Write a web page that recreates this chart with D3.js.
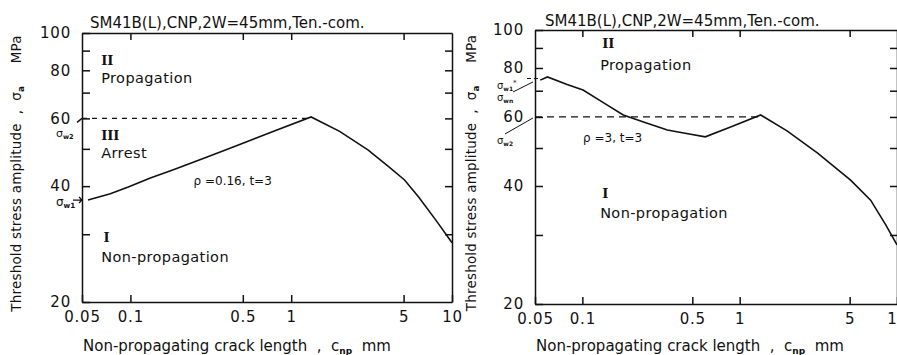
<!DOCTYPE html>
<html>
<head>
<meta charset="utf-8">
<script src="https://cdn.jsdelivr.net/npm/d3@7"></script>
<style>
  body { margin: 0; background: #fff; }
  svg text { font-family: "DejaVu Sans", sans-serif; fill: #111; white-space: pre; }
  .roman { font-family: "DejaVu Serif", serif; font-weight: bold; }
</style>
</head>
<body>
<svg id="chart" width="897" height="355"></svg>
<script>
// shared axis data
const xTickValues = [0.05, 0.1, 0.5, 1, 5, 10];
const xTickLabels = ["0.05", "0.1", "0.5", "1", "5", "10"];
const yMajorTicks = [20, 40, 60, 80, 100];
const yMinorTicks = [30, 50, 70, 90];
const titleText = "SM41B(L),CNP,2W=45mm,Ten.-com.";

// left panel, rho = 0.16, t = 3
const crackA = [0.0545, 0.075, 0.097, 0.133, 0.185, 0.3, 0.44, 0.8, 1.33, 2, 3, 4, 5.07, 6.2, 8, 10];
const stressA = [36.8, 38.2, 39.8, 42, 44.1, 47.6, 50.6, 55.8, 60.5, 55.5, 49.7, 45.1, 41.5, 37.5, 32.5, 28.5];
const peakA = 1.33;

// right panel, rho = 3, t = 3
const crackB = [0.054, 0.06, 0.08, 0.101, 0.14, 0.182, 0.25, 0.347, 0.45, 0.605, 0.9, 1.36, 2, 3.13, 5.07, 6.8, 8.5, 10];
const stressB = [74.5, 75.9, 72.6, 70.3, 64.8, 60.7, 58.1, 55.6, 54.5, 53.4, 56.8, 60.7, 55.3, 48.5, 41.4, 36.8, 31.8, 28.3];
const peakB = 1.36;

// region labels: [text, crack, stress, class]
const labelsA = [
  ["II", 0.0658, 82.6, "roman"],
  ["Propagation", 0.0658, 74.2, ""],
  ["III", 0.0658, 52.7, "roman"],
  ["Arrest", 0.0658, 47.3, ""],
  ["I", 0.068, 28.6, "roman"],
  ["Non-propagation", 0.0658, 25.4, ""]
];
const labelsB = [
  ["II", 0.1336, 90.0, "roman"],
  ["Propagation", 0.1297, 79.1, ""],
  ["I", 0.1336, 37.3, "roman"],
  ["Non-propagation", 0.1297, 33.1, ""]
];

const svg = d3.select("#chart");

function drawPanel(p) {
  const x = d3.scaleLog().domain([0.05, 10]).range([p.left, p.right]);
  const y = d3.scaleLog().domain([20, 100]).range([p.bottom, p.top]);
  const g = svg.append("g");

  // axes
  g.append("g")
    .attr("transform", `translate(0,${p.bottom})`)
    .call(d3.axisBottom(x).tickValues(xTickValues).tickSizeInner(-7).tickSizeOuter(0).tickPadding(9)
      .tickFormat((d, i) => xTickLabels[i]));
  g.append("g")
    .attr("transform", `translate(0,${p.top})`)
    .call(d3.axisTop(x).tickValues([0.1, 0.5, 1, 5]).tickSizeInner(-7).tickSizeOuter(0).tickFormat(""));
  g.append("g")
    .attr("transform", `translate(${p.left},0)`)
    .call(d3.axisLeft(y).tickValues(yMajorTicks.concat(yMinorTicks)).tickSizeInner(-8).tickSizeOuter(0).tickPadding(11)
      .tickFormat(d => yMajorTicks.includes(d) ? d : ""));
  g.append("g")
    .attr("transform", `translate(${p.right},0)`)
    .call(d3.axisRight(y).tickValues([30, 40, 50, 60, 70, 80, 90]).tickSizeInner(-7).tickSizeOuter(0).tickFormat(""));

  g.selectAll(".domain, .tick line").attr("stroke", "#111").attr("stroke-width", 1.5);
  g.selectAll(".tick text").attr("font-size", 15).attr("fill", "#111").attr("letter-spacing", 0.8)
    .attr("font-family", "DejaVu Sans, sans-serif");

  // title
  g.append("text").attr("x", p.left + p.titleDx).attr("y", p.titleY)
    .attr("font-size", 15).text(titleText);

  // axis labels
  const yl = g.append("text")
    .attr("transform", `translate(${p.left - p.ylabDx},${(p.top + p.bottom) / 2 + 6}) rotate(-90)`)
    .attr("text-anchor", "middle").attr("font-size", 13.5).attr("letter-spacing", 0.2);
  yl.append("tspan").text("Threshold stress amplitude  ,  \u03c3");
  yl.append("tspan").attr("font-size", 9).attr("dy", 3).attr("font-weight", "bold").text("a");
  yl.append("tspan").attr("dy", -3).text("     MPa");

  const xl = g.append("text").attr("x", p.left + 1).attr("y", 351).attr("font-size", 15);
  xl.append("tspan").text("Non-propagating crack length  ,  c");
  xl.append("tspan").attr("font-size", 9).attr("dy", 3).attr("font-weight", "bold").text("np");
  xl.append("tspan").attr("dy", -3).text("  mm");

  // dashed level at 60 MPa
  g.append("line")
    .attr("x1", x(0.05)).attr("x2", x(p.peak))
    .attr("y1", y(60)).attr("y2", y(60))
    .attr("stroke", "#111").attr("stroke-width", 1.3).attr("stroke-dasharray", p.dash);

  // curve
  const pts = p.crack.map((c, i) => [c, p.stress[i]]);
  g.append("path").datum(pts)
    .attr("fill", "none").attr("stroke", "#111").attr("stroke-width", 1.6)
    .attr("d", d3.line().x(d => x(d[0])).y(d => y(d[1])));

  // region labels
  p.labels.forEach(l => {
    g.append("text").attr("class", l[3]).attr("x", x(l[1])).attr("y", y(l[2]))
      .attr("font-size", l[3] ? 13 : 14.5).attr("letter-spacing", l[3] ? 0 : 0.4).text(l[0]);
  });
  g.append("text").attr("x", x(p.param[1])).attr("y", y(p.param[2]))
    .attr("font-size", 12).text(p.param[0]);

  return { x, y, g };
}

// sigma label helper
function sigma(g, xp, yp, sub, size, sup) {
  const t = g.append("text").attr("x", xp).attr("y", yp).attr("font-size", size);
  t.append("tspan").text("\u03c3");
  t.append("tspan").attr("font-size", size * 0.6).attr("font-weight", "bold").attr("dy", 2).text(sub);
  if (sup) t.append("tspan").attr("font-size", size * 0.7).attr("dy", -6).text(sup);
  return t;
}

const A = drawPanel({
  left: 82, right: 452, top: 33, bottom: 302, titleDx: 8, titleY: 28, ylabDx: 61,
  crack: crackA, stress: stressA, peak: peakA, labels: labelsA, dash: "5,5",
  param: ["\u03c1 =0.16, t=3", 0.247, 40.3]
});
const B = drawPanel({
  left: 535, right: 897, top: 30, bottom: 304, titleDx: 10, titleY: 26, ylabDx: 59,
  crack: crackB, stress: stressB, peak: peakB, labels: labelsB, dash: "7,5",
  param: ["\u03c1 =3, t=3", 0.101, 51.8]
});

// left panel markers
const ax = A.x(0.05);
sigma(A.g, ax - 26, A.y(60) + 19, "w2", 11);
A.g.append("path").attr("d", `M${ax - 5},${A.y(60) + 4} L${ax},${A.y(60)}`)
  .attr("stroke", "#111").attr("stroke-width", 1.5).attr("fill", "none");
const s1 = A.y(stressA[0]);
sigma(A.g, ax - 26, s1 + 6, "w1", 12);
A.g.append("path").attr("d", `M${ax - 9},${s1} L${ax},${s1} M${ax - 3},${s1 - 3} L${ax},${s1} L${ax - 3},${s1 + 3}`)
  .attr("stroke", "#111").attr("stroke-width", 1.3).attr("fill", "none");

// right panel markers
const bx = B.x(0.05);
B.g.append("line").attr("x1", bx - 8).attr("x2", B.x(crackB[0])).attr("y1", B.y(75.2)).attr("y2", B.y(75.2))
  .attr("stroke", "#111").attr("stroke-width", 1.2).attr("stroke-dasharray", "4,3");
sigma(B.g, bx - 38, B.y(75.2) + 10, "w1", 10, "*");
sigma(B.g, bx - 38, B.y(73.7) + 19, "wn", 10);
B.g.append("line").attr("x1", bx - 22).attr("y1", B.y(73.7) + 10).attr("x2", bx - 2).attr("y2", B.y(73.7))
  .attr("stroke", "#111").attr("stroke-width", 1);
sigma(B.g, bx - 38, B.y(60) + 27, "w2", 10);
B.g.append("line").attr("x1", bx - 30).attr("y1", B.y(60) + 17).attr("x2", bx - 2).attr("y2", B.y(60) + 1)
  .attr("stroke", "#111").attr("stroke-width", 1);
</script>
</body>
</html>
